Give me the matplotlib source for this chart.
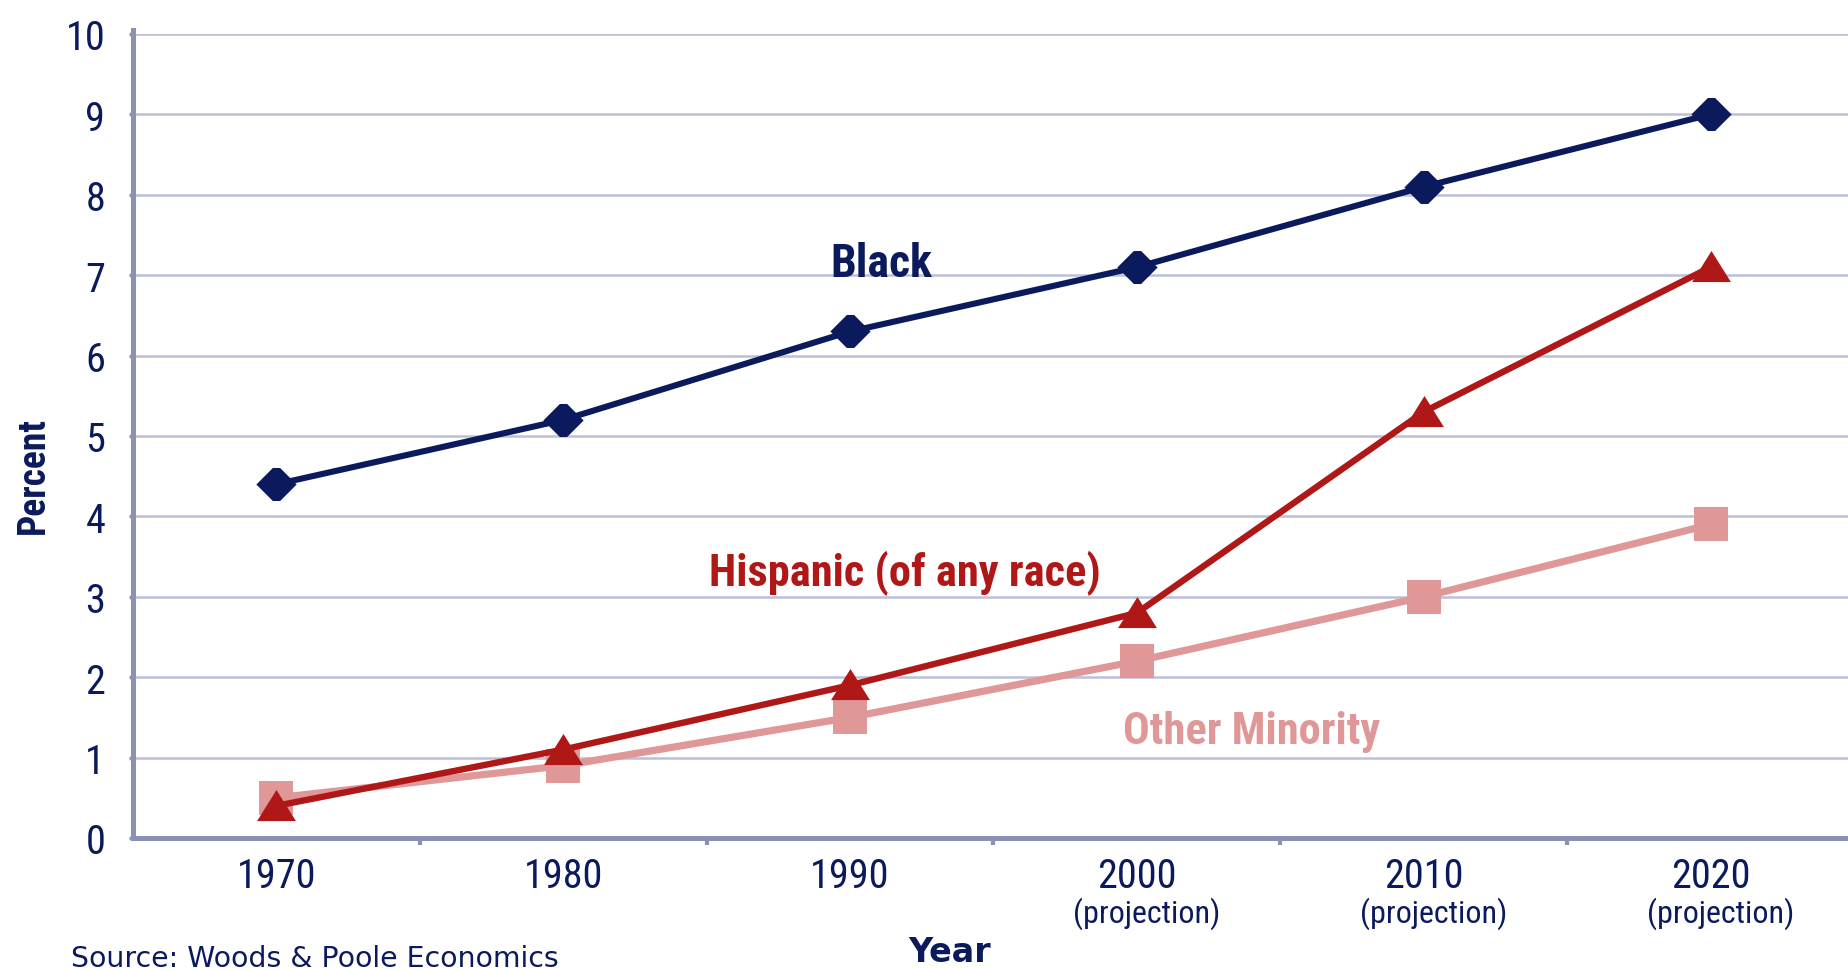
import os
import matplotlib
matplotlib.use("Agg")
import matplotlib.pyplot as plt
from matplotlib import font_manager
from matplotlib.font_manager import FontProperties
from matplotlib.path import Path

# Share of population by group, in percent
years = ["1970", "1980", "1990", "2000", "2010", "2020"]
year_notes = ["", "", "", "(projection)", "(projection)", "(projection)"]
black = [4.4, 5.2, 6.3, 7.1, 8.1, 9.0]
hispanic = [0.4, 1.1, 1.9, 2.8, 5.3, 7.1]
other_minority = [0.5, 0.9, 1.5, 2.2, 3.0, 3.9]
y_ticks = [0, 1, 2, 3, 4, 5, 6, 7, 8, 9, 10]

NAVY = "#0b1a5c"
RED = "#b01818"
PINK = "#df9798"
GRID = "#bcc0d6"
SPINE = "#8b91b2"


def _is_narrow(f):
    base = os.path.basename(f.fname).lower()
    return ("condensed" in str(f.stretch).lower() or "narrow" in base
            or "condensed" in base or "narrow" in f.name.lower())


def _weight_num(w):
    if isinstance(w, (int, float)):
        return w
    table = {"normal": 400, "regular": 400, "book": 400, "bold": 700,
             "medium": 500, "light": 300, "semibold": 600, "heavy": 800,
             "black": 900, "demibold": 600, "ultralight": 200}
    return table.get(str(w).lower(), 400)


def pick_font(bold):
    want = 700 if bold else 400
    cands = [f for f in font_manager.fontManager.ttflist
             if _is_narrow(f) and f.style == "normal"]
    prefer = ["Roboto", "Liberation", "DejaVu", "Noto", "Open", "Lato"]
    best = None
    for f in cands:
        rank = next((i for i, p in enumerate(prefer) if f.name.startswith(p)), 99)
        score = (abs(_weight_num(f.weight) - want), rank)
        if best is None or score < best[0]:
            best = (score, f)
    if best is not None and best[0][0] <= 100:
        return lambda size: FontProperties(fname=best[1].fname, size=size)
    return lambda size: FontProperties(family=["Roboto", "DejaVu Sans"],
                                       weight="bold" if bold else "normal",
                                       size=size)


reg = pick_font(False)
bld = pick_font(True)

W, H = 1849, 970
fig = plt.figure(figsize=(W / 100, H / 100), dpi=100)
fig.patch.set_facecolor("white")

left_px, right_px, top_px, bottom_px = 133, 1854, 35, 839
ax = fig.add_axes([left_px / W, (H - bottom_px) / H,
                   (right_px - left_px) / W, (bottom_px - top_px) / H])
ax.set_facecolor("white")

x = list(range(len(years)))

diamond = Path([(-1, 0), (-0.18, 0.82), (0.18, 0.82), (1, 0), (0.18, -0.82),
                (-0.18, -0.82), (-1, 0)])
triangle = Path([(0, 0.85), (-1, -0.75), (1, -0.75), (0, 0.85)])

ax.plot(x, other_minority, color=PINK, lw=5.2, marker="s", markersize=24,
        markeredgewidth=0, zorder=3)
ax.plot(x, hispanic, color=RED, lw=4.6, marker=triangle, markersize=28,
        markeredgewidth=0, zorder=4)
ax.plot(x, black, color=NAVY, lw=4.4, marker=diamond, markersize=29,
        markeredgewidth=0, zorder=5)

ax.set_xlim(-0.5, len(years) - 0.5)
ax.set_ylim(0, 10)

# gridlines
for v in y_ticks[1:]:
    ax.axhline(v, color=GRID, lw=1.8, zorder=1)

for s in ["top", "right"]:
    ax.spines[s].set_visible(False)
for s in ["left", "bottom"]:
    ax.spines[s].set_color(SPINE)
    ax.spines[s].set_linewidth(3.6)
ax.spines["left"].set_bounds(0, 10.05)

ax.set_yticks(y_ticks)
ax.set_yticklabels([str(v) for v in y_ticks])
ax.tick_params(axis="y", length=3, width=2.5, color=SPINE, pad=17,
               labelcolor=NAVY)
for lab in ax.get_yticklabels():
    lab.set_fontproperties(reg(29))

ax.set_xticks(x)
ax.set_xticklabels(years)
ax.tick_params(axis="x", which="major", length=0, pad=13, labelcolor=NAVY)
for lab in ax.get_xticklabels():
    lab.set_fontproperties(reg(29))
ax.set_xticks([i + 0.5 for i in x[:-1]], minor=True)
ax.tick_params(axis="x", which="minor", length=5, width=3, color=SPINE)

for xi, note in zip(x, year_notes):
    if note:
        ax.annotate(note, xy=(xi, 0), xycoords=("data", "axes fraction"),
                    xytext=(7, -54), textcoords="offset points",
                    ha="center", va="center", color=NAVY,
                    fontproperties=reg(23))

# series labels
ax.text(2.11, 7.15, "Black", color=NAVY, fontproperties=bld(33),
        ha="center", va="center", zorder=6)
ax.text(2.19, 3.3, "Hispanic (of any race)", color=RED, fontproperties=bld(32),
        ha="center", va="center", zorder=6)
ax.text(3.40, 1.33, "Other Minority", color=PINK, fontproperties=bld(32),
        ha="center", va="center", zorder=6)

# axis titles and source
fig.text(33 / W, 1 - 475 / H, "Percent", rotation=90, ha="center", va="center",
         color=NAVY, fontproperties=bld(27))
fig.text(950 / W, 1 - 953 / H, "Year", ha="center", va="center",
         color=NAVY, fontproperties=FontProperties(family=["DejaVu Sans"],
                                                   weight="bold", size=24))
fig.text(71 / W, 1 - 959 / H, "Source: Woods & Poole Economics", ha="left",
         va="center", color=NAVY,
         fontproperties=FontProperties(family=["DejaVu Sans"], size=20.4))

fig.savefig("out.png", dpi=100, facecolor="white")
